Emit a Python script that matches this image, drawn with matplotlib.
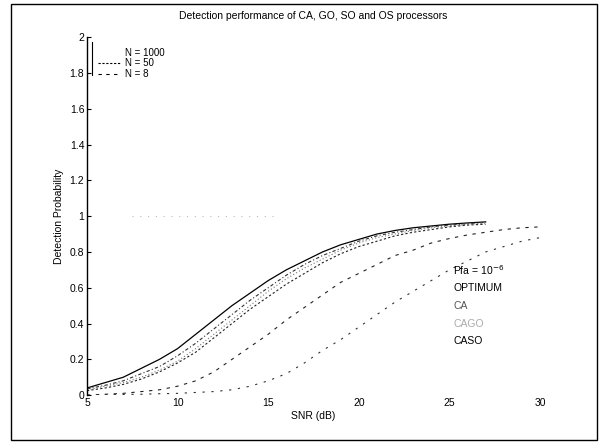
import numpy as np
import matplotlib.pyplot as plt
from matplotlib.lines import Line2D
from matplotlib.patches import Rectangle

plt.rcParams['font.family'] = ['Liberation Sans', 'DejaVu Sans']

# curve di rilevazione
snr = [5, 6, 7, 8, 9, 10, 11, 12, 13, 14, 15, 16, 17, 18, 19, 20, 21, 22, 23, 24, 25, 26, 27]
opt = [0.04, 0.07, 0.10, 0.15, 0.20, 0.26, 0.34, 0.42, 0.50, 0.57, 0.64, 0.70, 0.75, 0.80,
       0.84, 0.87, 0.90, 0.92, 0.935, 0.945, 0.955, 0.962, 0.968]
ca = [0.035, 0.055, 0.08, 0.12, 0.16, 0.22, 0.29, 0.37, 0.45, 0.53, 0.60, 0.67, 0.73, 0.78,
      0.82, 0.86, 0.89, 0.91, 0.925, 0.94, 0.95, 0.958, 0.965]
cago = [0.03, 0.05, 0.07, 0.10, 0.14, 0.19, 0.26, 0.34, 0.42, 0.50, 0.58, 0.65, 0.71, 0.76,
        0.81, 0.85, 0.88, 0.90, 0.92, 0.935, 0.945, 0.955, 0.962]
caso = [0.025, 0.04, 0.06, 0.09, 0.13, 0.18, 0.24, 0.32, 0.40, 0.48, 0.55, 0.62, 0.68, 0.74,
        0.79, 0.83, 0.86, 0.89, 0.91, 0.925, 0.94, 0.95, 0.955]

snr_b = [5, 6, 7, 8, 9, 10, 11, 12, 13, 14, 15, 16, 17, 18, 19, 20, 21, 22, 23, 24, 25, 26, 27, 28, 29, 30]
n50 = [0.0, 0.005, 0.01, 0.02, 0.03, 0.05, 0.08, 0.13, 0.20, 0.27, 0.34, 0.42, 0.49, 0.56,
       0.63, 0.68, 0.73, 0.78, 0.81, 0.85, 0.875, 0.895, 0.91, 0.925, 0.935, 0.94]
n8 = [0.0, 0.002, 0.004, 0.005, 0.008, 0.01, 0.015, 0.02, 0.03, 0.05, 0.08, 0.12, 0.18, 0.25,
      0.31, 0.38, 0.45, 0.52, 0.58, 0.64, 0.70, 0.75, 0.80, 0.83, 0.86, 0.88]

# linea grigia a 1 (residuo della scansione)
ref_x = [7.5, 15.5]
ref_y = [1.0, 1.0]

etichette = ["Pfa = 10$^{-6}$", "OPTIMUM", "CA", "CAGO", "CASO"]
etich_y = [0.70, 0.60, 0.50, 0.40, 0.30]
etich_col = ['black', 'black', '#555555', '#aaaaaa', 'black']

fig = plt.figure(figsize=(6, 4.42), dpi=100)
ax = fig.add_axes([0.145, 0.106, 0.755, 0.81])

ax.plot(ref_x, ref_y, color='#bbbbbb', linestyle=(0, (1, 6)), linewidth=0.8)
ax.plot(snr, opt, color='black', linestyle='-', linewidth=0.9)
ax.plot(snr, ca, color='#333333', linestyle=(0, (3, 2, 1, 2)), linewidth=0.8)
ax.plot(snr, cago, color='#777777', linestyle=(0, (1, 2)), linewidth=0.8)
ax.plot(snr, caso, color='#222222', linestyle=(0, (2, 2)), linewidth=0.8)
ax.plot(snr_b, n50, color='#222222', linestyle=(0, (3, 5)), linewidth=0.8)
ax.plot(snr_b, n8, color='#333333', linestyle=(0, (2, 6)), linewidth=0.8)

for t, y, c in zip(etichette, etich_y, etich_col):
    ax.text(25.2, y, t, fontsize=7.5, color=c, va='center', ha='left')

ax.set_xlim(5, 30)
ax.set_ylim(0, 2)
ax.set_xticks([5, 10, 15, 20, 25, 30])
ax.set_yticks(np.arange(0, 2.01, 0.2))
ax.set_yticklabels(['0', '0.2', '0.4', '0.6', '0.8', '1', '1.2', '1.4', '1.6', '1.8', '2'])
ax.tick_params(direction='in', labelsize=7.5, length=3, pad=2)
ax.tick_params(axis='x', length=0)
for s in ['top', 'right', 'bottom']:
    ax.spines[s].set_visible(False)
ax.spines['left'].set_linewidth(1.0)

ax.set_xlabel("SNR (dB)", fontsize=7.5, labelpad=2)
ax.set_ylabel("Detection Probability", fontsize=7.5, labelpad=4)
ax.set_title("Detection performance of CA, GO, SO and OS processors", fontsize=7.5, pad=13)

handles = [Line2D([], [], linestyle='none'),
           Line2D([], [], color='black', linestyle=(0, (2, 1.5)), linewidth=0.8),
           Line2D([], [], color='black', linestyle=(0, (3, 4)), linewidth=0.8)]
leg = ax.legend(handles, ["N = 1000", "N = 50", "N = 8"], loc='upper left',
                bbox_to_anchor=(0.01, 0.99), fontsize=7, frameon=False,
                handlelength=2.2, handletextpad=0.5, labelspacing=0.1, borderpad=0.2)
# barra verticale a sinistra della legenda
ax.plot([0.012, 0.012], [0.895, 0.985], transform=ax.transAxes, color='black', linewidth=0.8)

# cornice esterna della figura
fig.patches.append(Rectangle((0.018, 0.005), 0.977, 0.985, transform=fig.transFigure,
                             fill=False, edgecolor='black', linewidth=1.0))

plt.savefig("out.png", dpi=100)
